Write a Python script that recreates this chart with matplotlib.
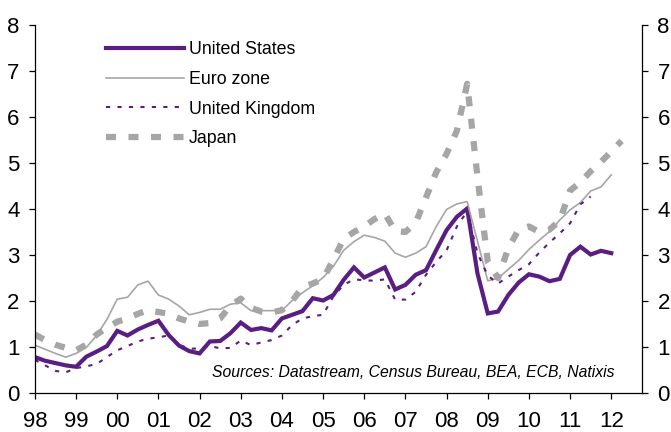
import numpy as np
import matplotlib
matplotlib.use("Agg")
import matplotlib.pyplot as plt

plt.rcParams['font.family'] = ['Liberation Sans', 'DejaVu Sans']

# quarterly series, starting 1998Q1
us = [0.78, 0.70, 0.65, 0.60, 0.57, 0.79, 0.90, 1.02, 1.35, 1.25, 1.38, 1.48,
      1.57, 1.26, 1.03, 0.91, 0.86, 1.12, 1.13, 1.30, 1.53, 1.37, 1.41, 1.36,
      1.62, 1.70, 1.78, 2.06, 2.01, 2.13, 2.46, 2.73, 2.51, 2.62, 2.73, 2.25,
      2.35, 2.57, 2.67, 3.11, 3.54, 3.83, 4.01, 2.60, 1.73, 1.77, 2.13, 2.40,
      2.58, 2.53, 2.43, 2.48, 3.00, 3.18, 3.01, 3.09, 3.04]
euro = [1.04, 0.95, 0.86, 0.78, 0.86, 0.99, 1.25, 1.60, 2.04, 2.08, 2.35, 2.43,
        2.13, 2.04, 1.89, 1.70, 1.75, 1.82, 1.82, 1.93, 1.96, 1.79, 1.79, 1.79,
        1.79, 2.01, 2.18, 2.33, 2.51, 2.75, 3.10, 3.29, 3.43, 3.38, 3.30, 3.04,
        2.95, 3.04, 3.18, 3.62, 3.99, 4.11, 4.16, 3.30, 2.44, 2.49, 2.69, 2.88,
        3.12, 3.32, 3.51, 3.76, 3.98, 4.14, 4.39, 4.48, 4.74]
uk = [0.72, 0.60, 0.48, 0.45, 0.54, 0.58, 0.63, 0.78, 0.93, 1.02, 1.12, 1.18,
      1.21, 1.25, 1.05, 0.96, 0.97, 1.02, 0.97, 0.98, 1.14, 1.04, 1.10, 1.15,
      1.25, 1.48, 1.62, 1.67, 1.70, 2.10, 2.35, 2.47, 2.45, 2.44, 2.47, 2.03,
      2.03, 2.20, 2.57, 2.85, 3.10, 3.62, 3.95, 3.04, 2.55, 2.38, 2.53, 2.67,
      2.80, 3.05, 3.27, 3.47, 3.69, 4.10, 4.27]
japan = [1.27, 1.15, 1.05, 0.98, 0.93, 1.05, 1.27, 1.42, 1.55, 1.62, 1.72, 1.80,
         1.76, 1.72, 1.62, 1.55, 1.50, 1.52, 1.62, 1.90, 2.05, 1.85, 1.77, 1.75,
         1.80, 2.00, 2.30, 2.38, 2.48, 2.90, 3.35, 3.50, 3.62, 3.78, 3.90, 3.52,
         3.50, 3.70, 4.25, 4.80, 5.20, 5.70, 6.72, 4.70, 2.85, 2.50, 3.15, 3.55,
         3.62, 3.50, 3.55, 3.75, 4.40, 4.58, 4.82, 5.02, 5.25, 5.48]

years = list(range(1998, 2013))
year_labels = [str(y)[-2:] for y in years]

purple = '#5a1e82'
grey = '#a6a6a6'

def qx(series):
    return 1998 + np.arange(len(series)) / 4.0

fig = plt.figure(figsize=(6.71, 4.32), dpi=100)
ax = fig.add_axes([0.052, 0.0903, 0.905, 0.852])

ax.plot(qx(us), us, color=purple, lw=3.0, label='United States', solid_joinstyle='miter')
ax.plot(qx(euro), euro, color=grey, lw=1.2, label='Euro zone')
ax.plot(qx(uk), uk, color=purple, lw=1.5, dashes=(2, 3.5), label='United Kingdom')
ax.plot(qx(japan), japan, color=grey, lw=4.5, dashes=(1.6, 2.0), label='Japan')

ax.set_xlim(1998, 2012.75)
ax.set_ylim(0, 8)
ax.set_xticks(years)
ax.set_xticklabels(year_labels)
ax.set_yticks(range(0, 9))

ax.spines['top'].set_visible(False)
for s in ['left', 'right', 'bottom']:
    ax.spines[s].set_linewidth(0.9)
ax.tick_params(axis='y', which='both', direction='out', length=4, width=0.9,
               labelsize=16, right=True, labelright=True, pad=7)
ax.tick_params(axis='x', direction='out', length=4, width=0.9, labelsize=16, pad=9)

leg = ax.legend(loc='upper left', bbox_to_anchor=(0.09, 1.0), frameon=False,
                fontsize=12.8, handlelength=4.4, labelspacing=0.72, handletextpad=0.3)

ax.text(0.955, 0.057, 'Sources: Datastream, Census Bureau, BEA, ECB, Natixis',
        transform=ax.transAxes, ha='right', va='center', style='italic', fontsize=11.3)

fig.savefig('out.png', dpi=100)
